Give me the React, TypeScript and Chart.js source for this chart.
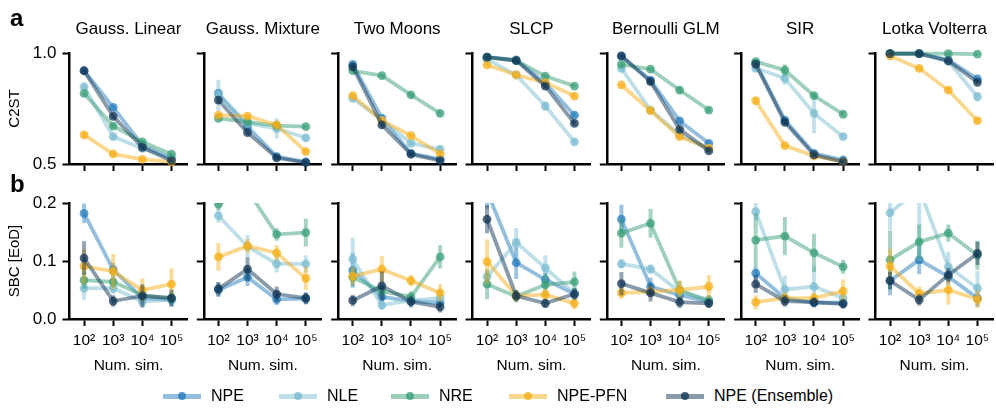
import React, { useEffect, useRef } from 'react';
import { Chart, registerables } from 'chart.js';

Chart.register(...registerables);

const FONT = "'Liberation Sans', Arial, Helvetica, sans-serif";
Chart.defaults.font.family = FONT;
Chart.defaults.color = '#000';

// ---------------- data ----------------
const taskNames = ['Gauss. Linear', 'Gauss. Mixture', 'Two Moons', 'SLCP', 'Bernoulli GLM', 'SIR', 'Lotka Volterra'];
const methodNames = ['NPE', 'NLE', 'NRE', 'NPE-PFN', 'NPE (Ensemble)'];
const logNumSims = [2, 3, 4, 5];
const simTickLabels = ['10²', '10³', '10⁴', '10⁵'];
const c2stTicks = [0.5, 1.0];
const sbcTicks = [0.0, 0.1, 0.2];

// C2ST (rows: tasks, cols: 10^2..10^5 simulations)
const c2stNPE = [
  [0.92, 0.755, 0.585, 0.525],
  [0.818, 0.668, 0.533, 0.51],
  [0.949, 0.706, 0.548, 0.521],
  [0.981, 0.969, 0.864, 0.72],
  [0.985, 0.878, 0.694, 0.593],
  [0.954, 0.698, 0.548, 0.518],
  [0.997, 0.997, 0.969, 0.883],
];
const c2stNLE = [
  [0.848, 0.623, 0.57, 0.527],
  [0.81, 0.683, 0.66, 0.618],
  [0.796, 0.698, 0.593, 0.566],
  [0.972, 0.901, 0.761, 0.6],
  [0.931, 0.743, 0.631, 0.571],
  [0.931, 0.886, 0.728, 0.623],
  [0.997, 0.997, 0.964, 0.803],
];
const c2stNRE = [
  [0.818, 0.671, 0.6, 0.544],
  [0.706, 0.69, 0.673, 0.668],
  [0.92, 0.898, 0.811, 0.728],
  [0.98, 0.966, 0.896, 0.851],
  [0.949, 0.927, 0.833, 0.743],
  [0.961, 0.923, 0.808, 0.724],
  [0.997, 0.997, 0.997, 0.995],
];
const c2stPFN = [
  [0.631, 0.545, 0.521, 0.51],
  [0.72, 0.716, 0.676, 0.556],
  [0.808, 0.695, 0.628, 0.545],
  [0.946, 0.901, 0.867, 0.806],
  [0.856, 0.74, 0.623, 0.571],
  [0.785, 0.583, 0.536, 0.51],
  [0.987, 0.931, 0.833, 0.695],
];
const c2stEns = [
  [0.92, 0.715, 0.575, 0.515],
  [0.788, 0.641, 0.528, 0.506],
  [0.938, 0.676, 0.544, 0.515],
  [0.981, 0.966, 0.851, 0.683],
  [0.987, 0.871, 0.656, 0.559],
  [0.949, 0.688, 0.541, 0.51],
  [0.997, 0.997, 0.964, 0.868],
];
// C2ST error half-widths
const c2stErrNPE = [
  [0.008, 0.01, 0.008, 0.006],
  [0.02, 0.015, 0.008, 0.005],
  [0.01, 0.012, 0.008, 0.006],
  [0.005, 0.006, 0.01, 0.012],
  [0.005, 0.01, 0.01, 0.008],
  [0.008, 0.01, 0.008, 0.005],
  [0.003, 0.003, 0.006, 0.01],
];
const c2stErrNLE = [
  [0.012, 0.01, 0.008, 0.008],
  [0.07, 0.012, 0.045, 0.015],
  [0.012, 0.01, 0.01, 0.02],
  [0.005, 0.01, 0.02, 0.012],
  [0.015, 0.01, 0.008, 0.008],
  [0.015, 0.03, 0.09, 0.012],
  [0.003, 0.003, 0.01, 0.02],
];
const c2stErrNRE = [
  [0.01, 0.01, 0.008, 0.006],
  [0.008, 0.008, 0.008, 0.008],
  [0.008, 0.006, 0.01, 0.008],
  [0.005, 0.006, 0.008, 0.008],
  [0.01, 0.008, 0.015, 0.012],
  [0.01, 0.025, 0.012, 0.01],
  [0.003, 0.003, 0.004, 0.005],
];
const c2stErrPFN = [
  [0.012, 0.008, 0.005, 0.005],
  [0.01, 0.008, 0.01, 0.012],
  [0.012, 0.008, 0.008, 0.008],
  [0.006, 0.006, 0.006, 0.008],
  [0.008, 0.008, 0.008, 0.008],
  [0.012, 0.008, 0.006, 0.005],
  [0.004, 0.006, 0.008, 0.01],
];
const c2stErrEns = [
  [0.008, 0.01, 0.008, 0.006],
  [0.015, 0.01, 0.008, 0.005],
  [0.01, 0.012, 0.008, 0.006],
  [0.005, 0.006, 0.01, 0.012],
  [0.005, 0.01, 0.01, 0.008],
  [0.008, 0.012, 0.008, 0.005],
  [0.003, 0.003, 0.006, 0.01],
];

// SBC [EoD]
const sbcNPE = [
  [0.182, 0.085, 0.036, 0.033],
  [0.05, 0.072, 0.034, 0.035],
  [0.084, 0.038, 0.031, 0.028],
  [0.22, 0.097, 0.068, 0.043],
  [0.172, 0.056, 0.041, 0.03],
  [0.079, 0.036, 0.028, 0.028],
  [0.066, 0.102, 0.073, 0.036],
];
const sbcNLE = [
  [0.053, 0.053, 0.03, 0.033],
  [0.178, 0.125, 0.095, 0.095],
  [0.103, 0.024, 0.032, 0.036],
  [0.073, 0.132, 0.088, 0.044],
  [0.095, 0.086, 0.047, 0.033],
  [0.185, 0.051, 0.056, 0.036],
  [0.183, 0.225, 0.09, 0.053],
];
const sbcNRE = [
  [0.067, 0.064, 0.041, 0.036],
  [0.198, 0.222, 0.146, 0.149],
  [0.072, 0.048, 0.038, 0.107],
  [0.06, 0.039, 0.059, 0.064],
  [0.148, 0.165, 0.05, 0.031],
  [0.136, 0.143, 0.114, 0.09],
  [0.102, 0.133, 0.148, 0.11],
];
const sbcPFN = [
  [0.091, 0.082, 0.05, 0.06],
  [0.107, 0.126, 0.114, 0.07],
  [0.074, 0.086, 0.066, 0.045],
  [0.099, 0.04, 0.042, 0.027],
  [0.045, 0.047, 0.05, 0.056],
  [0.029, 0.036, 0.036, 0.048],
  [0.091, 0.044, 0.05, 0.034],
];
const sbcEns = [
  [0.105, 0.031, 0.04, 0.036],
  [0.052, 0.086, 0.043, 0.036],
  [0.032, 0.057, 0.03, 0.021],
  [0.172, 0.04, 0.027, 0.043],
  [0.061, 0.045, 0.029, 0.027],
  [0.06, 0.031, 0.029, 0.026],
  [0.066, 0.033, 0.076, 0.113],
];
// SBC error half-widths
const sbcErrNPE = [
  [0.017, 0.012, 0.01, 0.01],
  [0.012, 0.015, 0.01, 0.01],
  [0.03, 0.01, 0.008, 0.008],
  [0.03, 0.028, 0.012, 0.01],
  [0.025, 0.015, 0.01, 0.008],
  [0.012, 0.008, 0.008, 0.008],
  [0.025, 0.025, 0.015, 0.015],
];
const sbcErrNLE = [
  [0.02, 0.01, 0.01, 0.01],
  [0.012, 0.02, 0.015, 0.015],
  [0.037, 0.008, 0.008, 0.01],
  [0.01, 0.025, 0.022, 0.01],
  [0.008, 0.008, 0.01, 0.008],
  [0.015, 0.024, 0.035, 0.01],
  [0.03, 0.125, 0.026, 0.03],
];
const sbcErrNRE = [
  [0.015, 0.01, 0.01, 0.01],
  [0.01, 0.02, 0.011, 0.024],
  [0.015, 0.01, 0.01, 0.02],
  [0.026, 0.01, 0.02, 0.018],
  [0.025, 0.025, 0.015, 0.01],
  [0.045, 0.033, 0.033, 0.012],
  [0.05, 0.03, 0.015, 0.025],
];
const sbcErrPFN = [
  [0.03, 0.03, 0.02, 0.027],
  [0.024, 0.012, 0.013, 0.02],
  [0.015, 0.022, 0.01, 0.015],
  [0.038, 0.01, 0.01, 0.01],
  [0.01, 0.01, 0.017, 0.02],
  [0.012, 0.01, 0.01, 0.02],
  [0.03, 0.012, 0.025, 0.015],
];
const sbcErrEns = [
  [0.029, 0.01, 0.02, 0.015],
  [0.012, 0.02, 0.013, 0.01],
  [0.01, 0.025, 0.01, 0.01],
  [0.024, 0.01, 0.008, 0.01],
  [0.02, 0.015, 0.01, 0.008],
  [0.015, 0.01, 0.008, 0.008],
  [0.015, 0.01, 0.012, 0.02],
];

const c2stMeans = [c2stNPE, c2stNLE, c2stNRE, c2stPFN, c2stEns];
const c2stErrs = [c2stErrNPE, c2stErrNLE, c2stErrNRE, c2stErrPFN, c2stErrEns];
const sbcMeans = [sbcNPE, sbcNLE, sbcNRE, sbcPFN, sbcEns];
const sbcErrs = [sbcErrNPE, sbcErrNLE, sbcErrNRE, sbcErrPFN, sbcErrEns];

// ---------------- styles ----------------
const methodColors: [number, number, number][] = [
  [40, 125, 190],
  [125, 190, 210],
  [60, 160, 120],
  [245, 175, 25],
  [20, 55, 85],
];
const rgba = (c: [number, number, number], a: number) => `rgba(${c[0]},${c[1]},${c[2]},${a})`;

const AREA_W = 118;
const areaLeftOf = (col: number) => 69.5 + 134.33 * col;
const ROWS = [
  { canvasTop: 0, canvasH: 184, padTop: 0, areaBottom: 164 },
  { canvasTop: 185, canvasH: 195, padTop: 18, areaBottom: 319 },
];

function geometry(row: number, col: number) {
  const aL = areaLeftOf(col);
  const left = col === 0 ? 0 : Math.floor(aL) - 14;
  const padL = col === 0 ? 2 : 0;
  const yW = aL - left - padL;
  const right = aL + AREA_W;
  const padR0 = Math.min(14, 996 - right);
  const width = Math.ceil(right + padR0 - left);
  const padR = width - (right - left);
  const r = ROWS[row];
  const xH = r.canvasTop + r.canvasH - r.areaBottom;
  return { left, top: r.canvasTop, width, height: r.canvasH, padL, padR, padTop: r.padTop, yW, xH };
}

const errorBarPlugin = {
  id: 'errorBars',
  beforeDatasetDraw(chart: any, args: any) {
    const ds = chart.data.datasets[args.index];
    const errs: number[] | undefined = ds.errors;
    if (!errs) return;
    const { ctx, chartArea } = chart;
    const xs = chart.scales.x;
    const ys = chart.scales.y;
    const clipTop = ds.errClipTop || 0;
    ctx.save();
    ctx.beginPath();
    ctx.rect(chartArea.left - 20, chartArea.top - clipTop, chartArea.right - chartArea.left + 40, chartArea.bottom - chartArea.top + clipTop + 20);
    ctx.clip();
    ctx.strokeStyle = ds.errColor;
    ctx.lineWidth = 4;
    ctx.lineCap = 'butt';
    ds.data.forEach((p: any, i: number) => {
      const x = xs.getPixelForValue(p.x);
      ctx.beginPath();
      ctx.moveTo(x, ys.getPixelForValue(p.y - errs[i]));
      ctx.lineTo(x, ys.getPixelForValue(p.y + errs[i]));
      ctx.stroke();
    });
    ctx.restore();
  },
};

function buildConfig(row: number, col: number): any {
  const g = geometry(row, col);
  const isTop = row === 0;
  const means = isTop ? c2stMeans : sbcMeans;
  const errs = isTop ? c2stErrs : sbcErrs;
  const yTicks = isTop ? c2stTicks : sbcTicks;
  const datasets = methodNames.map((name, m) => ({
    label: name,
    data: logNumSims.map((x, i) => ({ x, y: means[m][col][i] })),
    errors: errs[m][col],
    errColor: rgba(methodColors[m], 0.45),
    errClipTop: isTop ? 10 : 0,
    borderColor: rgba(methodColors[m], 0.5),
    borderWidth: 3.8,
    pointRadius: 4.4,
    pointBackgroundColor: rgba(methodColors[m], 0.75),
    pointBorderWidth: 0,
    pointHoverRadius: 4.4,
    tension: 0,
    order: 4 - m,
    clip: isTop ? 10 : { left: 10, top: 0, right: 10, bottom: 10 },
  }));
  const axisCommon = {
    border: { display: true, color: '#000', width: 2.5 },
    grid: { display: true, drawOnChartArea: false, drawTicks: true, tickLength: 7, tickWidth: 2, tickColor: '#000' },
  };
  return {
    type: 'line',
    data: { datasets },
    plugins: [errorBarPlugin],
    options: {
      animation: false,
      responsive: false,
      maintainAspectRatio: false,
      devicePixelRatio: 1,
      events: [],
      layout: { autoPadding: false, padding: { left: g.padL, right: g.padR, top: g.padTop, bottom: 0 } },
      plugins: {
        legend: { display: false },
        tooltip: { enabled: false },
        title: {
          display: isTop,
          text: taskNames[col],
          fullSize: false,
          color: '#000',
          font: { size: 17, weight: 'normal', family: FONT },
          padding: { top: 18.8, bottom: 13.8 },
        },
      },
      scales: {
        x: {
          type: 'linear',
          min: 1.5,
          max: 5.55,
          offset: false,
          ...axisCommon,
          afterBuildTicks: (axis: any) => {
            axis.ticks = logNumSims.map((v) => ({ value: v }));
          },
          afterFit: (s: any) => {
            s.height = g.xH;
          },
          ticks: {
            display: !isTop,
            autoSkip: false,
            maxRotation: 0,
            padding: 5,
            color: '#000',
            font: { size: 15.5, family: FONT },
            callback: (v: number) => simTickLabels[logNumSims.indexOf(v)] ?? '',
          },
          title: {
            display: !isTop,
            text: 'Num. sim.',
            color: '#000',
            font: { size: 15.5, family: FONT },
            padding: { top: 0, bottom: 5 },
          },
        },
        y: {
          type: 'linear',
          min: yTicks[0],
          max: yTicks[yTicks.length - 1],
          grace: 0,
          ...axisCommon,
          afterBuildTicks: (axis: any) => {
            axis.ticks = yTicks.map((v) => ({ value: v }));
          },
          afterFit: (s: any) => {
            s.width = g.yW;
          },
          ticks: {
            display: col === 0,
            padding: 6,
            color: '#000',
            font: { size: 17, family: FONT },
            callback: (v: number) => v.toFixed(1),
          },
          title: {
            display: col === 0,
            text: isTop ? 'C2ST' : 'SBC [EoD]',
            color: '#000',
            font: { size: 15, family: FONT },
            padding: { top: 4, bottom: 4 },
          },
        },
      },
    },
  };
}

function Panel({ row, col }: { row: number; col: number }) {
  const ref = useRef<HTMLCanvasElement>(null);
  const g = geometry(row, col);
  useEffect(() => {
    const chart = new Chart(ref.current as HTMLCanvasElement, buildConfig(row, col));
    return () => chart.destroy();
  }, [row, col]);
  return (
    <canvas
      ref={ref}
      width={g.width}
      height={g.height}
      style={{ position: 'absolute', left: g.left, top: g.top, width: g.width, height: g.height }}
    />
  );
}

const legendLefts = [163, 279, 391, 509, 666];

function Legend() {
  return (
    <>
      {methodNames.map((name, m) => (
        <div
          key={name}
          style={{
            position: 'absolute',
            left: legendLefts[m],
            top: 386,
            height: 20,
            display: 'flex',
            alignItems: 'center',
            fontFamily: FONT,
            fontSize: 16,
            color: '#000',
            whiteSpace: 'nowrap',
          }}
        >
          <div style={{ position: 'relative', width: 38, height: 20, marginRight: 10 }}>
            <div style={{ position: 'absolute', left: 0, right: 0, top: 7.5, height: 5, background: rgba(methodColors[m], 0.5) }} />
            <div
              style={{
                position: 'absolute',
                left: 15,
                top: 6,
                width: 8,
                height: 8,
                borderRadius: 4,
                background: rgba(methodColors[m], 0.8),
              }}
            />
          </div>
          <span>{name}</span>
        </div>
      ))}
    </>
  );
}

export default function App() {
  const panels = [];
  for (let r = 0; r < 2; r++) {
    for (let c = 0; c < 7; c++) {
      panels.push(<Panel key={`${r}-${c}`} row={r} col={c} />);
    }
  }
  return (
    <div style={{ position: 'relative', width: 996, height: 413, overflow: 'hidden', background: '#fff' }}>
      <style>{'html,body{margin:0;padding:0;overflow:hidden;background:#fff}'}</style>
      {panels}
      <div style={{ position: 'absolute', left: 10, top: 5.5, fontFamily: FONT, fontWeight: 'bold', fontSize: 24, lineHeight: '24px' }}>a</div>
      <div style={{ position: 'absolute', left: 10, top: 171.5, fontFamily: FONT, fontWeight: 'bold', fontSize: 24, lineHeight: '24px' }}>b</div>
      <Legend />
    </div>
  );
}
